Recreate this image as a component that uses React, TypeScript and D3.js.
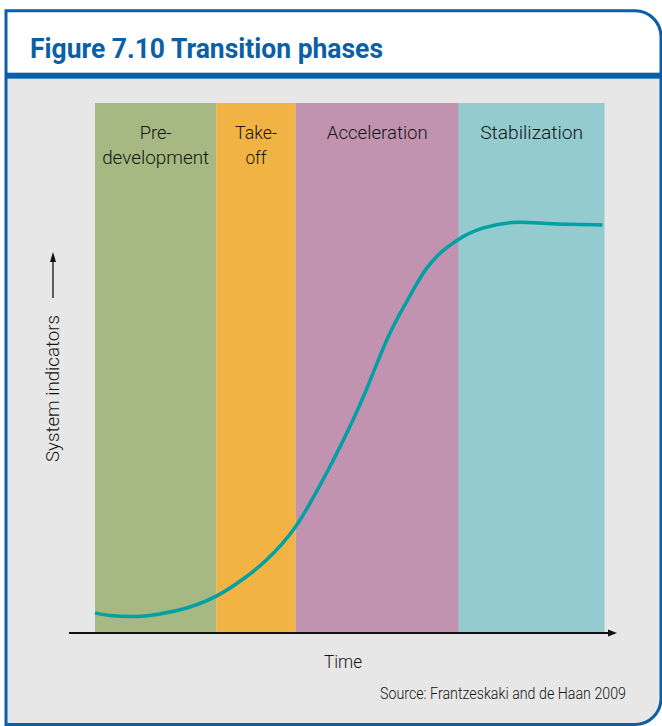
import React, { useRef, useEffect } from 'react';
import * as d3 from 'd3';

// phases: [start, end] in time units (0..100)
const phaseNames = [['Pre-', 'development'], ['Take-', 'off'], ['Acceleration'], ['Stabilization']];
const phaseStart = [0, 23.8, 39.4, 71.4];
const phaseEnd = [23.8, 39.4, 71.4, 100];
const phaseColors = ['#a6b983', '#f1b343', '#c193b0', '#93cbcf'];
const labelWidths = [[32, 107], [42, 21], [101], [103]];

// curve
const curveX = [0, 2.9, 7.2, 12.7, 18.6, 23.9, 28.8, 33.7, 39.4, 45.4, 50, 53.3, 55.4, 57.8, 61.1, 65, 71.4, 76.1, 83.3, 89.8, 99.6];
const curveY = [3.8, 3.3, 3.1, 3.6, 4.9, 7.0, 10, 13.8, 20.1, 30.1, 38.9, 46.0, 51.0, 56.4, 62.4, 68.7, 74.3, 76.4, 77.5, 77.2, 77.0];

const title = 'Figure 7.10 Transition phases';
const xLabel = 'Time';
const yLabel = 'System indicators';
const source = 'Source: Frantzeskaki and de Haan 2009';

export default function App() {
  const ref = useRef<SVGSVGElement>(null);
  const width = 662;
  const height = 726;
  const blue = '#0b5fa7';
  const font = 'Roboto, "Open Sans", sans-serif';

  useEffect(() => {
    const svg = d3.select(ref.current);
    svg.selectAll('*').remove();

    const x = d3.scaleLinear().domain([0, 100]).range([95, 604.5]);
    const y = d3.scaleLinear().domain([0, 100]).range([633, 103]);

    //---------- frame ----------//
    const L = 6, T = 10.8, R = 661, B = 724.5, r = 26;
    const framePath = `M${L},${T}H${R - r}A${r},${r} 0 0 1 ${R},${T + r}V${B - r}A${r},${r} 0 0 1 ${R - r},${B}H${L}Z`;
    const defs = svg.append('defs');
    defs.append('clipPath').attr('id', 'frameClip').append('path').attr('d', framePath);

    svg.append('path').attr('d', framePath).attr('fill', 'white');
    const inner = svg.append('g').attr('clip-path', 'url(#frameClip)');
    inner.append('rect').attr('x', 0).attr('y', 78.7).attr('width', width).attr('height', height).attr('fill', '#e7e7e7');
    inner.append('rect').attr('x', 0).attr('y', 72.7).attr('width', width).attr('height', 6).attr('fill', blue);
    svg.append('path').attr('d', framePath).attr('fill', 'none').attr('stroke', blue).attr('stroke-width', 3);

    svg.append('text')
      .attr('x', 30).attr('y', 58.3)
      .attr('textLength', 353).attr('lengthAdjust', 'spacingAndGlyphs')
      .attr('fill', blue)
      .style('font-family', font).style('font-weight', 700).style('font-size', '28px')
      .text(title);

    //---------- phases ----------//
    svg.append('g').selectAll('rect')
      .data(phaseStart)
      .join('rect')
      .attr('x', (d) => x(d))
      .attr('y', y(100))
      .attr('width', (d, i) => x(phaseEnd[i]) - x(d))
      .attr('height', y(0) - y(100) - 0.5)
      .attr('fill', (d, i) => phaseColors[i]);

    const labels = svg.append('g')
      .style('font-family', font).style('font-size', '19px').style('font-weight', 300)
      .attr('fill', '#141414')
      .attr('text-anchor', 'middle');
    phaseNames.forEach((lines, i) => {
      const cx = (x(phaseStart[i]) + x(phaseEnd[i])) / 2;
      lines.forEach((line, j) => {
        labels.append('text')
          .attr('x', cx).attr('y', 139 + j * 25)
          .attr('textLength', labelWidths[i][j]).attr('lengthAdjust', 'spacingAndGlyphs')
          .text(line);
      });
    });

    //---------- curve ----------//
    const pts = curveX.map((d, i) => [d, curveY[i]] as [number, number]);
    const line = d3.line<[number, number]>()
      .x((d) => x(d[0]))
      .y((d) => y(d[1]))
      .curve(d3.curveMonotoneX);
    svg.append('path')
      .attr('d', line(pts))
      .attr('fill', 'none')
      .attr('stroke', '#00a0a3')
      .attr('stroke-width', 3.5);

    //---------- axes ----------//
    svg.append('line')
      .attr('x1', 69).attr('x2', 610).attr('y1', y(0)).attr('y2', y(0))
      .attr('stroke', '#111').attr('stroke-width', 1.8);
    svg.append('path')
      .attr('d', `M617,${y(0)}L608,${y(0) - 3.5}L608,${y(0) + 3.5}Z`)
      .attr('fill', '#111');

    svg.append('line')
      .attr('x1', 53).attr('x2', 53).attr('y1', 298).attr('y2', 260)
      .attr('stroke', '#111').attr('stroke-width', 1.3);
    svg.append('path')
      .attr('d', 'M53,252L50,262L56,262Z')
      .attr('fill', '#111');

    const other = svg.append('g')
      .attr('fill', '#141414')
      .style('font-family', font).style('font-weight', 300);

    other.append('text')
      .attr('transform', 'translate(59,388.5) rotate(-90)')
      .attr('text-anchor', 'middle')
      .attr('textLength', 147).attr('lengthAdjust', 'spacingAndGlyphs')
      .style('font-size', '19px')
      .text(yLabel);

    other.append('text')
      .attr('x', 343).attr('y', 667.5)
      .attr('text-anchor', 'middle')
      .attr('textLength', 38).attr('lengthAdjust', 'spacingAndGlyphs')
      .style('font-size', '19px')
      .text(xLabel);

    other.append('text')
      .attr('x', 380).attr('y', 699.3)
      .attr('textLength', 246).attr('lengthAdjust', 'spacingAndGlyphs')
      .style('font-size', '16px')
      .text(source);
  }, []);

  return (
    <svg ref={ref} width={width} height={height}
      style={{ position: 'absolute', left: 0, top: 0, background: 'white' }} />
  );
}
